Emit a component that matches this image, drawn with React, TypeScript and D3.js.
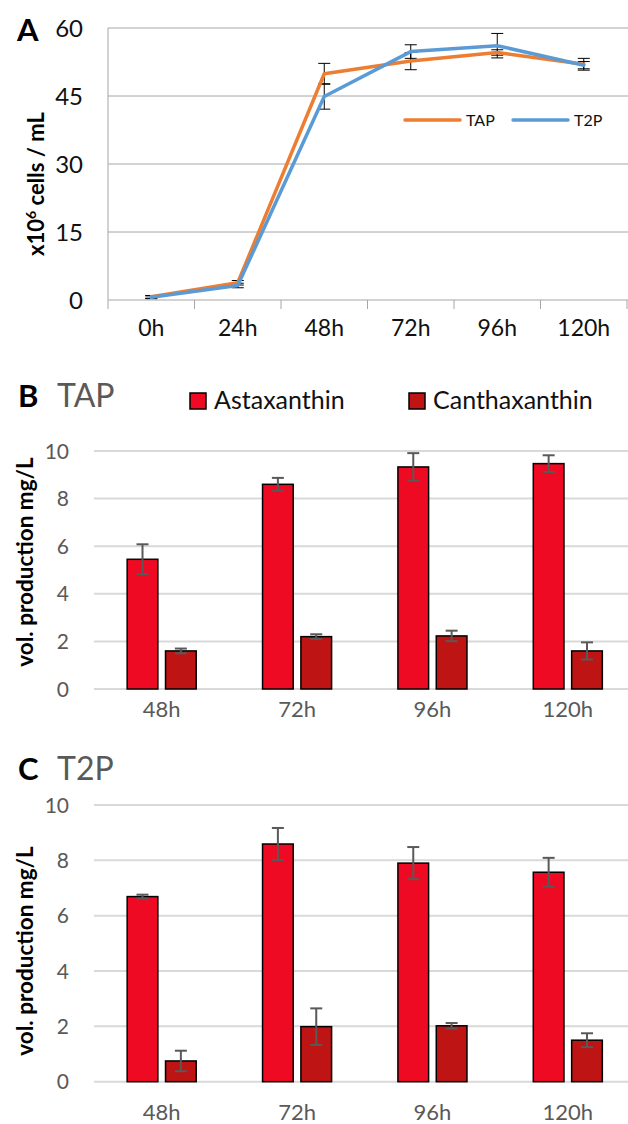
import * as d3 from 'd3';

const hours = ['0h', '24h', '48h', '72h', '96h', '120h'];
const tapCells = [0.7, 3.8, 49.9, 52.7, 54.6, 52.0];
const tapErr = [0.3, 0.5, 2.3, 1.9, 0.6, 1.3];
const t2pCells = [0.6, 3.2, 44.9, 54.8, 56.1, 51.8];
const t2pErr = [0.3, 0.5, 2.8, 1.5, 2.7, 0.8];
const cellTicks = [0, 15, 30, 45, 60];

const prodHours = ['48h', '72h', '96h', '120h'];
const pigments = ['Astaxanthin', 'Canthaxanthin'];
const tapAsta = [5.45, 8.6, 9.33, 9.47];
const tapAstaErr = [0.63, 0.27, 0.58, 0.35];
const tapCantha = [1.6, 2.2, 2.23, 1.6];
const tapCanthaErr = [0.1, 0.1, 0.22, 0.36];
const t2pAsta = [6.69, 8.59, 7.9, 7.57];
const t2pAstaErr = [0.07, 0.58, 0.58, 0.52];
const t2pCantha = [0.75, 1.99, 2.02, 1.5];
const t2pCanthaErr = [0.37, 0.66, 0.1, 0.25];
const prodTicks = [0, 2, 4, 6, 8, 10];

const FONT = 'Lato, "Open Sans", sans-serif';
const GREY = '#595959';
const pigmentColor = d3.scaleOrdinal<string>().domain(pigments).range(['#ee0a22', '#be1414']);

function CellPanel() {
  const x = d3.scaleBand().domain(hours).range([108, 627]);
  const y = d3.scaleLinear().domain([0, 60]).range([300, 28]);
  const cx = (h: string) => (x(h) as number) + x.bandwidth() / 2;
  const line = d3
    .line<number>()
    .x((_, i) => cx(hours[i]))
    .y((d) => y(d));
  const series = [
    { name: 'TAP', vals: tapCells, err: tapErr, color: '#ed7d31' },
    { name: 'T2P', vals: t2pCells, err: t2pErr, color: '#5b9bd5' },
  ];
  const ticksX = [...hours.map((h) => x(h) as number), 627];
  return (
    <g>
      {cellTicks.map((t) => (
        <g key={t}>
          {t > 0 && <line x1={108} x2={628} y1={y(t)} y2={y(t)} stroke="#a6a6a6" strokeWidth={1} />}
          <text x={83} y={y(t)} dy="0.36em" textAnchor="end" fontSize={24} fontFamily={FONT} fill="#111">
            {t}
          </text>
        </g>
      ))}
      <line x1={108} x2={108} y1={28} y2={300} stroke="#a6a6a6" />
      <line x1={108} x2={628} y1={300} y2={300} stroke="#a6a6a6" />
      {ticksX.map((t, i) => (
        <line key={i} x1={t} x2={t} y1={300} y2={309} stroke="#a6a6a6" />
      ))}
      {hours.map((h) => (
        <text key={h} x={cx(h)} y={336} textAnchor="middle" fontSize={23} fontFamily={FONT} fill="#111">
          {h}
        </text>
      ))}
      {series.map((s) => (
        <g key={s.name}>
          {s.vals.map((v, i) => {
            const px = cx(hours[i]);
            return (
              <g key={i} stroke="#000" strokeWidth={1}>
                <line x1={px} x2={px} y1={y(v - s.err[i])} y2={y(v + s.err[i])} />
                <line x1={px - 6} x2={px + 6} y1={y(v - s.err[i])} y2={y(v - s.err[i])} />
                <line x1={px - 6} x2={px + 6} y1={y(v + s.err[i])} y2={y(v + s.err[i])} />
              </g>
            );
          })}
        </g>
      ))}
      {series.map((s) => (
        <path key={s.name} d={line(s.vals) ?? ''} fill="none" stroke={s.color} strokeWidth={3.5} strokeLinejoin="round" strokeLinecap="round" />
      ))}
      {series.map((s, i) => (
        <g key={s.name} transform={`translate(${405 + i * 108},120)`}>
          <line x1={0} x2={55} y1={0} y2={0} stroke={s.color} strokeWidth={3.5} strokeLinecap="round" />
          <text x={61} y={0} dy="0.36em" fontSize={16} fontFamily={FONT} fill="#111">
            {s.name}
          </text>
        </g>
      ))}
      <text x={17} y={41} fontSize={31} fontWeight="bold" fontFamily={FONT}>A</text>
      <text transform="translate(44,184) rotate(-90)" textAnchor="middle" fontSize={22} fontWeight="bold" fontFamily={FONT}>
        x10<tspan dy={-8} fontSize={14}>6</tspan>
        <tspan dy={8}> cells / mL</tspan>
      </text>
    </g>
  );
}

function ProdPanel({ top, bottom, asta, astaErr, cantha, canthaErr, letter, title, titleY, labelY, titleMid, legend }: any) {
  const x0 = d3.scaleBand().domain(prodHours).range([94, 635.5]).paddingInner(0.49).paddingOuter(0.245);
  const x1 = d3.scaleBand().domain(pigments).range([0, x0.bandwidth()]).paddingInner(0.2);
  const y = d3.scaleLinear().domain([0, 10]).range([bottom, top]);
  const rows = [
    { name: pigments[0], vals: asta, err: astaErr },
    { name: pigments[1], vals: cantha, err: canthaErr },
  ];
  return (
    <g>
      {prodTicks.map((t) => (
        <g key={t}>
          <line x1={94} x2={628} y1={y(t)} y2={y(t)} stroke="#d9d9d9" strokeWidth={2} />
          <text x={69} y={y(t)} dy="0.36em" textAnchor="end" fontSize={21} fontFamily={FONT} fill={GREY}>
            {t}
          </text>
        </g>
      ))}
      {rows.map((r) =>
        prodHours.map((h, i) => {
          const bx = (x0(h) as number) + (x1(r.name) as number);
          const w = x1.bandwidth();
          const mid = bx + w / 2;
          const v = r.vals[i];
          const e = r.err[i];
          return (
            <g key={r.name + h}>
              <rect x={bx} y={y(v)} width={w} height={y(0) - y(v)} fill={pigmentColor(r.name)} stroke="#000" strokeWidth={1.5} />
              <g stroke={GREY} strokeWidth={2}>
                <line x1={mid} x2={mid} y1={y(v - e)} y2={y(v + e)} />
                <line x1={mid - 6} x2={mid + 6} y1={y(v - e)} y2={y(v - e)} />
                <line x1={mid - 6} x2={mid + 6} y1={y(v + e)} y2={y(v + e)} />
              </g>
            </g>
          );
        }),
      )}
      {prodHours.map((h) => (
        <text key={h} x={(x0(h) as number) + x0.bandwidth() / 2} y={labelY} textAnchor="middle" fontSize={22} fontFamily={FONT} fill={GREY}>
          {h}
        </text>
      ))}
      <text x={18} y={titleY} fontSize={31} fontWeight="bold" fontFamily={FONT}>{letter}</text>
      <text x={57} y={titleY} fontSize={32} fontFamily={FONT} fill={GREY}>{title}</text>
      <text transform={`translate(33,${titleMid}) rotate(-90)`} textAnchor="middle" fontSize={22.5} fontWeight="bold" fontFamily={FONT}>
        vol. production mg/L
      </text>
      {legend &&
        pigments.map((p, i) => (
          <g key={p} transform={`translate(${i === 0 ? 190 : 409},393)`}>
            <rect x={0} y={0} width={16} height={16} fill={pigmentColor(p)} stroke="#000" strokeWidth={1.5} />
            <text x={24} y={16} fontSize={25} fontFamily={FONT} fill="#111">
              {p}
            </text>
          </g>
        ))}
    </g>
  );
}

export default function App() {
  return (
    <div style={{ position: 'absolute', left: 0, top: 0 }}>
      <svg width={628} height={1124} style={{ display: 'block', background: '#fff' }}>
        <CellPanel />
        <ProdPanel top={451} bottom={689} asta={tapAsta} astaErr={tapAstaErr} cantha={tapCantha} canthaErr={tapCanthaErr}
          letter="B" title="TAP" titleY={407} labelY={717} titleMid={562} legend />
        <ProdPanel top={805} bottom={1081.7} asta={t2pAsta} astaErr={t2pAstaErr} cantha={t2pCantha} canthaErr={t2pCanthaErr}
          letter="C" title="T2P" titleY={780} labelY={1120} titleMid={951} legend={false} />
      </svg>
    </div>
  );
}
